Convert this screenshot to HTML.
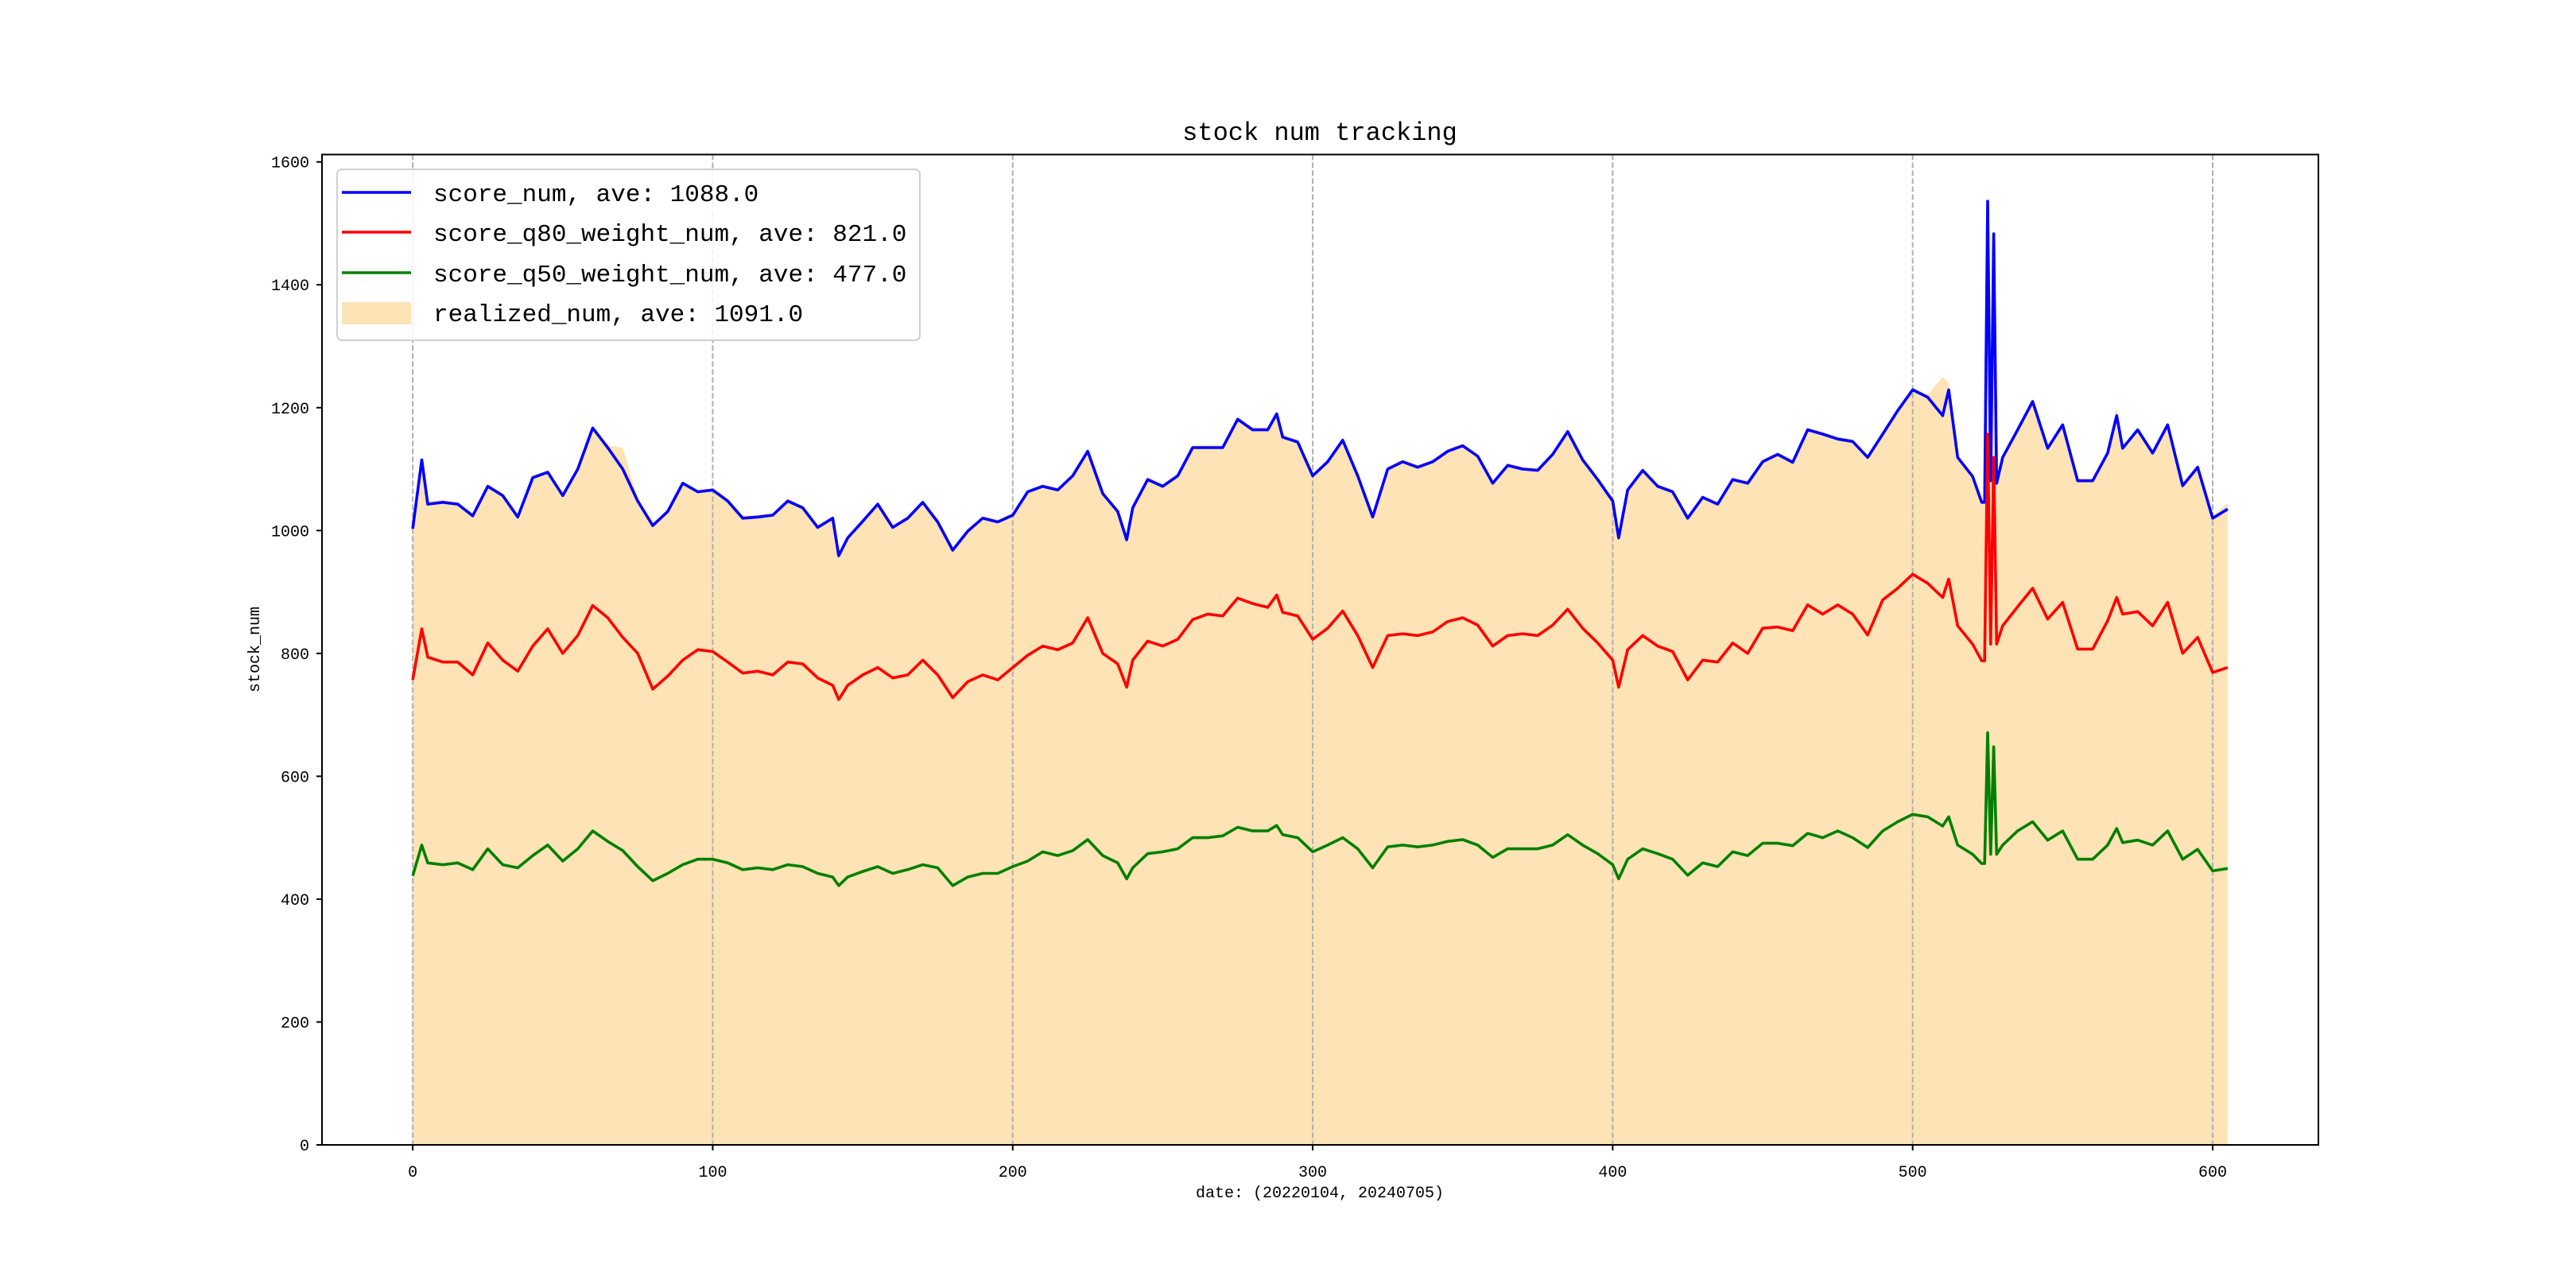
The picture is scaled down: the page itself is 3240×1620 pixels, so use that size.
<!DOCTYPE html>
<html><head><meta charset="utf-8"><style>
html,body{margin:0;padding:0;background:#fff;}
svg{display:block;}
text{font-family:"Liberation Mono","DejaVu Sans Mono",monospace;fill:#000;}
</style></head><body>
<svg id="chart" width="3240" height="1620" viewBox="0 0 3240 1620" xmlns="http://www.w3.org/2000/svg">
<rect width="3240" height="1620" fill="#fff"/>
<g id="plot"></g>
</svg>
<script>
const xIdx=[0,3,5,10,15,20,25,30,35,40,45,50,55,60,65,70,75,80,85,90,95,100,105,110,115,120,125,130,135,140,142,145,150,155,160,165,170,175,180,185,190,195,200,205,210,215,220,225,230,235,238,240,245,250,255,260,265,270,275,280,285,288,290,295,300,305,310,315,320,325,330,335,340,345,350,355,360,365,370,375,380,385,390,395,400,402,405,410,415,420,425,430,435,440,445,450,455,460,465,470,475,480,485,490,495,500,505,510,512,515,520,523,524,525,526,527,528,530,535,540,545,550,555,560,565,568,570,575,580,585,590,595,600,605];
const scoreNum=[1003,1115,1043,1046,1043,1024,1072,1057,1022,1086,1095,1057,1100,1167,1135,1100,1048,1008,1031,1077,1063,1066,1048,1020,1022,1025,1048,1037,1005,1020,959,988,1015,1043,1005,1020,1046,1014,968,999,1020,1014,1025,1063,1072,1066,1089,1129,1060,1031,985,1037,1083,1072,1089,1135,1135,1135,1181,1164,1164,1190,1152,1144,1089,1112,1147,1089,1022,1100,1112,1103,1112,1129,1138,1121,1077,1106,1100,1098,1124,1161,1115,1083,1048,988,1066,1098,1072,1063,1020,1054,1043,1083,1077,1112,1124,1111,1164,1157,1149,1145,1119,1157,1195,1229,1217,1187,1229,1119,1088,1046,1046,1536,1081,1483,1077,1119,1164,1210,1134,1172,1081,1081,1126,1187,1134,1164,1126,1172,1073,1103,1020,1035];
const q80Num=[757,840,794,786,786,765,817,789,771,812,840,800,829,878,858,826,800,742,763,789,806,803,786,768,771,765,786,783,760,748,725,748,765,777,760,765,789,765,728,754,765,757,777,797,812,806,817,858,800,783,745,789,820,812,823,855,864,861,890,881,875,895,867,861,823,841,869,829,777,829,832,829,835,852,858,846,812,829,832,829,846,872,841,817,789,745,806,829,812,803,757,789,786,817,800,841,843,837,879,864,879,864,830,887,906,929,914,891,921,845,815,788,788,1157,815,1119,815,845,876,906,856,883,807,807,853,891,864,868,845,883,800,826,769,777];
const q50Num=[438,488,459,456,459,448,482,456,451,471,488,462,482,511,494,479,453,430,442,456,465,465,459,448,451,448,456,453,442,436,422,436,445,453,442,448,456,451,422,436,442,442,453,462,477,471,479,497,471,459,433,451,474,477,482,500,500,503,517,511,511,520,505,500,477,488,500,482,451,485,488,485,488,494,497,488,468,482,482,482,488,505,488,474,456,433,465,482,474,465,439,459,453,477,471,491,491,487,507,500,511,500,484,511,526,538,534,519,534,488,473,458,458,671,473,648,473,488,511,526,496,511,465,465,488,515,492,496,488,511,465,481,446,450];
const realizedNum=[1010,1118,1048,1050,1046,1028,1075,1060,1026,1090,1098,1060,1104,1170,1138,1135,1052,1012,1035,1080,1066,1069,1052,1024,1026,1029,1052,1040,1009,1024,963,992,1019,1046,1009,1024,1049,1018,972,1003,1024,1018,1029,1066,1076,1070,1093,1133,1064,1035,989,1041,1087,1076,1093,1139,1139,1139,1185,1168,1168,1194,1156,1148,1093,1116,1151,1093,1026,1104,1116,1107,1116,1133,1142,1125,1081,1110,1104,1102,1128,1165,1119,1087,1052,992,1070,1102,1076,1067,1024,1058,1047,1087,1081,1116,1128,1115,1168,1161,1153,1149,1123,1161,1199,1233,1221,1250,1240,1123,1092,1050,1050,1536,1085,1485,1081,1123,1168,1214,1138,1176,1085,1085,1130,1200,1138,1168,1130,1176,1077,1107,1024,1045];
const xTicks=[0,100,200,300,400,500,600];
const yTicks=[0,200,400,600,800,1000,1200,1400,1600];
const legendLabels=["score_num, ave: 1088.0","score_q80_weight_num, ave: 821.0","score_q50_weight_num, ave: 477.0","realized_num, ave: 1091.0"];

const L=405,R=2916,T=194.4,B=1440;
const XMIN=-30.25,XMAX=635.25,YMIN=0,YMAX=1612;
function sx(v){return L+(v-XMIN)/(XMAX-XMIN)*(R-L);}
function sy(v){return B-(v-YMIN)/(YMAX-YMIN)*(B-T);}
const NS="http://www.w3.org/2000/svg";
const g=document.getElementById('plot');
function mk(tag,attrs,parent){const e=document.createElementNS(NS,tag);for(const k in attrs)e.setAttribute(k,attrs[k]);(parent||g).appendChild(e);return e;}
const n=Math.min(xIdx.length,scoreNum.length,q80Num.length,q50Num.length,realizedNum.length);

// fill
let d='M'+sx(xIdx[0])+','+sy(0);
for(let i=0;i<n;i++)d+=' L'+sx(xIdx[i]).toFixed(1)+','+sy(realizedNum[i]).toFixed(1);
d+=' L'+sx(xIdx[n-1])+','+sy(0)+' Z';
const fill=mk('path',{d:d,fill:'#fde3b5',stroke:'none'});



// grid
xTicks.forEach(t=>{
  const gl=mk('line',{x1:sx(t),x2:sx(t),y1:T,y2:B,stroke:'#b0b0b0','stroke-width':2,'stroke-dasharray':'7,3'});
  
  
});

function line(arr,color,name){
  let p='';
  for(let i=0;i<n;i++)p+=(i?' L':'M')+sx(xIdx[i]).toFixed(1)+','+sy(arr[i]).toFixed(1);
  const e=mk('path',{d:p,fill:'none',stroke:color,'stroke-width':3.6,'stroke-linejoin':'round'});
  
  
}
line(scoreNum,'#0000ff','score-num-line');
line(q80Num,'#ff0000','score-q80-line');
line(q50Num,'#008000','score-q50-line');

// axes frame
const fr=mk('rect',{x:L,y:T,width:R-L,height:B-T,fill:'none',stroke:'#000','stroke-width':2});



xTicks.forEach(t=>{
  mk('line',{x1:sx(t),x2:sx(t),y1:B,y2:B+7,stroke:'#000','stroke-width':2});
  const tx=mk('text',{x:sx(t),y:B+40,'font-size':20,'text-anchor':'middle'});
  tx.textContent=t;
  
  
});
yTicks.forEach(t=>{
  mk('line',{x1:L-7,x2:L,y1:sy(t),y2:sy(t),stroke:'#000','stroke-width':2});
  const tx=mk('text',{x:L-16,y:sy(t)+7,'font-size':20,'text-anchor':'end'});
  tx.textContent=t;
  
  
});
</script>
<svg style="position:absolute;left:0;top:0" width="3240" height="1620">
<text x="1660" y="176" font-size="32" text-anchor="middle">stock num tracking</text>
<text x="1660" y="1506" font-size="20" text-anchor="middle">date: (20220104, 20240705)</text>
<text x="326" y="817" font-size="20" text-anchor="middle" transform="rotate(-90 326 817)">stock_num</text>
<g>
<rect x="424" y="213" width="733" height="215" rx="6" fill="#fff" fill-opacity="0.85" stroke="#d0d0d0" stroke-width="2"/>
<line x1="430" x2="517" y1="242" y2="242" stroke="#0000ff" stroke-width="3.6"/>
<text x="545" y="253" font-size="31">score_num, ave: 1088.0</text>
<line x1="430" x2="517" y1="292" y2="292" stroke="#ff0000" stroke-width="3.6"/>
<text x="545" y="303" font-size="31">score_q80_weight_num, ave: 821.0</text>
<line x1="430" x2="517" y1="343" y2="343" stroke="#008000" stroke-width="3.6"/>
<text x="545" y="354" font-size="31">score_q50_weight_num, ave: 477.0</text>
<rect x="430" y="380" width="87" height="28" fill="#fde3b5"/>
<text x="545" y="404" font-size="31">realized_num, ave: 1091.0</text>
</g>
</svg>
</body></html>
